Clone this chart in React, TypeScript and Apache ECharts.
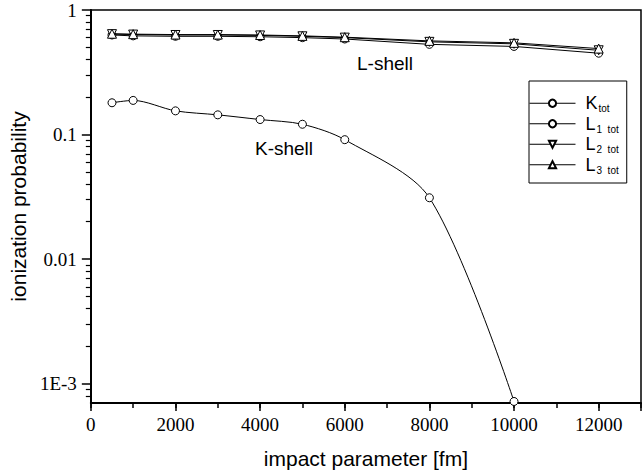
import React, { useEffect, useRef } from 'react';
import * as echarts from 'echarts';

// impact parameter [fm]
const kImpact = [500, 1000, 2000, 3000, 4000, 5000, 6000, 8000, 10000];
const kTot = [0.18, 0.188, 0.155, 0.144, 0.132, 0.121, 0.091, 0.0311, 0.00072];

const lImpact = [500, 1000, 2000, 3000, 4000, 5000, 6000, 8000, 10000, 12000];
const l1Tot = [0.63, 0.62, 0.615, 0.615, 0.61, 0.6, 0.585, 0.53, 0.51, 0.45];
const l2Tot = [0.64, 0.635, 0.63, 0.63, 0.625, 0.615, 0.6, 0.555, 0.535, 0.475];
const l3Tot = [0.645, 0.64, 0.635, 0.635, 0.63, 0.62, 0.605, 0.565, 0.545, 0.49];

const yTickValues = [1e-3, 0.01, 0.1, 1];
const yTickLabels = ['1E-3', '0.01', '0.1', '1'];
const yMinorTicks = [
  8e-4, 9e-4,
  2e-3, 3e-3, 4e-3, 5e-3, 6e-3, 7e-3, 8e-3, 9e-3,
  0.02, 0.03, 0.04, 0.05, 0.06, 0.07, 0.08, 0.09,
  0.2, 0.3, 0.4, 0.5, 0.6, 0.7, 0.8, 0.9,
];

const seriesNames = ['K_tot', 'L1_tot', 'L2_tot', 'L3_tot'];
const legendLabels: Record<string, string> = {
  K_tot: '{m|K}{s|tot}',
  L1_tot: '{m|L}{s|1  tot}',
  L2_tot: '{m|L}{s|2  tot}',
  L3_tot: '{m|L}{s|3  tot}',
};

const SANS = '"Liberation Sans", Arial, sans-serif';
const SERIF = '"Liberation Serif", "Times New Roman", serif';

const pairs = (xs: number[], ys: number[]) => ys.map((y, i) => [xs[i], y]);

export default function App() {
  const ref = useRef<HTMLDivElement>(null);
  useEffect(() => {
    if (!ref.current) return;
    const chart = echarts.init(ref.current, null, { renderer: 'svg' });
    const markerStyle = { color: '#fff', borderColor: '#000', borderWidth: 1 };
    const lineStyle = { color: '#000', width: 1 };
    const labelFmt = (v: number) => {
      const i = yTickValues.findIndex((t) => Math.abs(Math.log10(v) - Math.log10(t)) < 1e-6);
      return i >= 0 ? yTickLabels[i] : '';
    };
    const option: any = {
      animation: false,
      backgroundColor: '#fff',
      grid: {
        left: 88, top: 10, width: 559, height: 393,
        show: true, borderColor: '#000', borderWidth: 1.5, backgroundColor: 'transparent',
      },
      xAxis: [
        {
          type: 'value', min: 0, max: 13000, interval: 2000, position: 'bottom',
          axisLine: { show: true, onZero: false, lineStyle: { color: '#000', width: 2 } },
          axisTick: { show: true, length: 8, lineStyle: { color: '#000', width: 1.5 } },
          axisLabel: {
            formatter: (v: number) => (v % 2000 === 0 && v <= 12000 ? String(v) : ''),
            fontFamily: SERIF, fontSize: 19, color: '#000', margin: 12,
          },
          splitLine: { show: false },
          name: 'impact parameter [fm]', nameLocation: 'middle', nameGap: 45,
          nameTextStyle: { fontFamily: SANS, fontSize: 21, color: '#000' },
        },
        {
          type: 'value', min: 0, max: 13000, interval: 1000, position: 'bottom',
          axisLine: { show: false, onZero: false },
          axisTick: { show: true, length: 5, lineStyle: { color: '#000', width: 1.5 } },
          axisLabel: { show: false },
          splitLine: { show: false },
        },
      ],
      yAxis: [
        {
          type: 'log', logBase: 10, min: 7e-4, max: 1, position: 'left',
          axisLine: { show: true, onZero: false, lineStyle: { color: '#000', width: 2 } },
          axisTick: { show: true, length: 9, customValues: yTickValues, lineStyle: { color: '#000', width: 1.5 } },
          axisLabel: {
            customValues: yTickValues,
            formatter: labelFmt,
            fontFamily: SERIF, fontSize: 19, color: '#000', margin: 14,
          },
          splitLine: { show: false },
          name: 'ionization probability', nameLocation: 'middle', nameGap: 45, nameRotate: 90,
          nameTextStyle: { fontFamily: SANS, fontSize: 21, color: '#000' },
        },
        {
          type: 'log', logBase: 10, min: 7e-4, max: 1, position: 'left', offset: 0,
          axisLine: { show: false, onZero: false },
          axisTick: { show: true, length: 5, customValues: yMinorTicks, lineStyle: { color: '#000', width: 1.2 } },
          axisLabel: { show: false },
          splitLine: { show: false },
        },
      ],
      legend: {
        orient: 'vertical', left: 529, top: 81,
        padding: [12, 8, 8, 0], itemGap: 0, itemWidth: 46, itemHeight: 9,
        borderColor: '#000', borderWidth: 1, backgroundColor: '#fff',
        lineStyle: { width: 1, color: '#000' },
        data: seriesNames,
        formatter: (name: string) => legendLabels[name],
        textStyle: {
          color: '#000', fontFamily: SANS, fontSize: 18, lineHeight: 20.5,
          rich: {
            m: { fontFamily: SANS, fontSize: 18, lineHeight: 20.5, padding: [0, 0, 0, 5] },
            s: { fontFamily: SANS, fontSize: 10, lineHeight: 20.5, verticalAlign: 'bottom', padding: [0, 0, 0, 1] },
          },
        },
      },
      graphic: [
        { type: 'text', x: 385, y: 63, style: { text: 'L-shell', fontFamily: SANS, fontSize: 19, fill: '#000', align: 'center', verticalAlign: 'middle' } },
        { type: 'text', x: 284, y: 148, style: { text: 'K-shell', fontFamily: SANS, fontSize: 19, fill: '#000', align: 'center', verticalAlign: 'middle' } },
      ],
      series: [
        {
          name: 'L1_tot', type: 'line', data: pairs(lImpact, l1Tot),
          symbol: 'circle', symbolSize: 8, itemStyle: markerStyle, lineStyle, z: 3,
        },
        {
          name: 'L2_tot', type: 'line', data: pairs(lImpact, l2Tot),
          symbol: 'triangle', symbolRotate: 180, symbolSize: 9, itemStyle: markerStyle, lineStyle, z: 4,
        },
        {
          name: 'L3_tot', type: 'line', data: pairs(lImpact, l3Tot),
          symbol: 'triangle', symbolSize: 9, itemStyle: markerStyle, lineStyle, z: 5,
        },
        {
          name: 'K_tot', type: 'line', data: pairs(kImpact, kTot), smooth: 0.3,
          symbol: 'circle', symbolSize: 8, itemStyle: markerStyle, lineStyle, z: 6,
        },
      ],
    };
    chart.setOption(option);
    return () => chart.dispose();
  }, []);
  return (
    <div
      ref={ref}
      style={{ position: 'absolute', left: 0, top: 0, width: 644, height: 476, background: '#fff' }}
    />
  );
}
